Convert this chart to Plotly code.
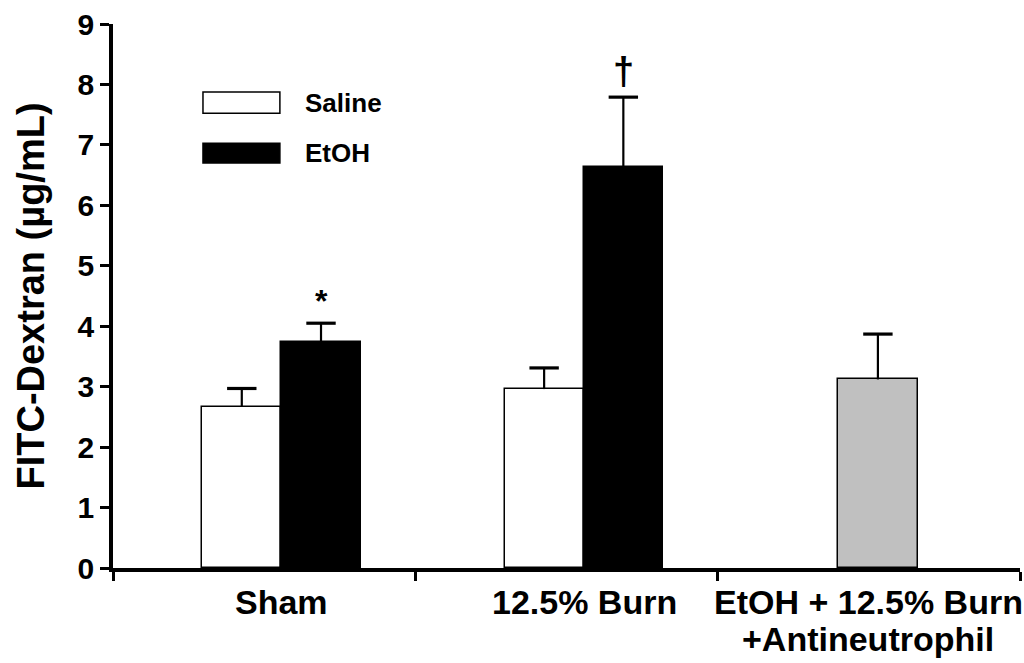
import plotly.graph_objects as go

categories = ["Sham", "12.5% Burn", "EtOH + 12.5% Burn"]
category_line2 = ["", "", "+Antineutrophil"]
cat_index = [0, 1, 2]

saline_vals = [2.67, 2.96]
saline_err = [0.30, 0.35]
etoh_vals = [3.74, 6.64]
etoh_err = [0.31, 1.15]
anti_vals = [3.12]
anti_err = [0.75]

y_ticks = [0, 1, 2, 3, 4, 5, 6, 7, 8, 9]
sig_marks = ["*", "†"]
sig_y = [4.42, 8.22]

BAR_W = 0.262
off_sal, off_eth, off_anti = -0.074, 0.188, 0.03
FONT = "Liberation Sans"

series = [
    ("Saline", [c + off_sal for c in cat_index[:2]], saline_vals, saline_err, "white"),
    ("EtOH", [c + off_eth for c in cat_index[:2]], etoh_vals, etoh_err, "black"),
    ("EtOH + Antineutrophil", [cat_index[2] + off_anti], anti_vals, anti_err, "#c0c0c0"),
]

fig = go.Figure()
for name, xs, vals, errs, col in series:
    fig.add_trace(go.Bar(
        x=xs, y=vals, width=BAR_W, name=name,
        marker=dict(color=col, line=dict(color="black", width=1.5)),
        showlegend=False))
for name, xs, vals, errs, col in series:
    # upper error bar only: cap drawn as a horizontal-line marker at the top
    fig.add_trace(go.Scatter(
        x=xs, y=[v + e for v, e in zip(vals, errs)], mode="markers",
        marker=dict(symbol="line-ew", size=21, color="black", line=dict(color="black", width=3.2)),
        error_y=dict(type="data", array=[0] * len(errs), arrayminus=errs, symmetric=False,
                     color="black", thickness=2.2, width=0),
        showlegend=False, hoverinfo="skip"))

# significance marks
for i, (m, yy) in enumerate(zip(sig_marks, sig_y)):
    fig.add_annotation(x=cat_index[i] + off_eth, y=yy, text="<b>%s</b>" % m, showarrow=False,
                       yanchor="middle",
                       font=dict(family=FONT, size=38 if m == "†" else 32, color="black"),
                       xref="x", yref="y")

# category labels
label_x = [0.056, 1.058, 1.998]
for lx, lab, lab2 in zip(label_x, categories, category_line2):
    fig.add_annotation(x=lx, y=0, xref="x", yref="paper", yanchor="top", yshift=-13,
                       text="<b>%s</b>" % lab, showarrow=False, align="center",
                       font=dict(family=FONT, size=34, color="black"))
    if lab2:
        fig.add_annotation(x=lx, y=0, xref="x", yref="paper", yanchor="top", yshift=-50,
                           text="<b>%s</b>" % lab2, showarrow=False, align="center",
                           font=dict(family=FONT, size=34, color="black"))

# legend (drawn manually)
legend_items = [("Saline", "white", 0.875, 0.836), ("EtOH", "black", 0.781, 0.7445)]
for nm, col, ytop, ybot in legend_items:
    fig.add_shape(type="rect", xref="paper", yref="paper",
                  x0=0.0992, x1=0.184, y0=ybot, y1=ytop,
                  fillcolor=col, line=dict(color="black", width=1.5))
    fig.add_annotation(xref="paper", yref="paper", x=0.2095, y=(ytop + ybot) / 2,
                       xanchor="left", yanchor="middle",
                       text="<b>%s</b>" % nm, showarrow=False,
                       font=dict(family=FONT, size=26, color="black"))

fig.update_layout(
    width=1024, height=663,
    margin=dict(l=113, r=4, t=24, b=95),
    paper_bgcolor="white", plot_bgcolor="white",
    barmode="overlay", bargap=0,
    font=dict(family=FONT, color="black"),
)
fig.update_xaxes(range=[-0.5, 2.5], tickvals=[-0.5, 0.5, 1.5, 2.5], ticktext=["", "", "", ""],
                 ticks="outside", ticklen=9, tickwidth=2.5, tickcolor="black",
                 showline=True, linecolor="black", linewidth=3.5, showgrid=False, zeroline=False,
                 automargin=False)
fig.update_yaxes(range=[0, 9], tickvals=y_ticks, ticktext=["<b>%d</b>" % t for t in y_ticks],
                 ticks="outside", ticklen=9, tickwidth=2.5, tickcolor="black",
                 tickfont=dict(family=FONT, size=30, color="black"),
                 ticklabeloverflow="allow",
                 showline=True, linecolor="black", linewidth=3.5, showgrid=False, zeroline=False,
                 automargin=False,
                 title=dict(text="<b>FITC-Dextran (µg/mL)</b>", standoff=22,
                            font=dict(family=FONT, size=38, color="black")))

fig.write_html("out.html", config={"displayModeBar": False},
               post_script="document.body.style.margin='0';document.body.style.overflow='hidden';")
